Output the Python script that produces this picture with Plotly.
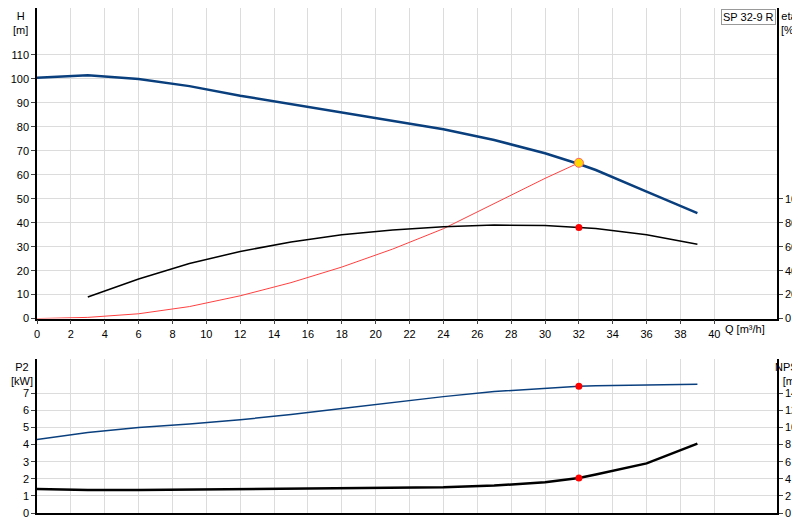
import plotly.graph_objects as go

q_h = [0, 3, 6, 9, 12, 15, 18, 21, 24, 27, 30, 32, 33, 36, 39]
head = [100.5, 101.5, 100, 97, 93, 89.5, 86, 82.5, 79, 74.5, 69, 64.5, 62, 53, 44]
q_eta = [3, 6, 9, 12, 15, 18, 21, 24, 27, 30, 32, 33, 36, 39]
eta = [18, 33, 46, 56, 64, 70, 74, 76.6, 78, 77.6, 76, 75.2, 70, 62]
q_sys = [0, 3, 6, 9, 12, 15, 18, 21, 24, 27, 30, 32]
h_sys = [0, 0.5, 2, 5, 9.5, 15, 21.5, 29, 37.5, 48, 58.5, 65]
p2 = [4.3, 4.7, 5.0, 5.2, 5.45, 5.75, 6.1, 6.45, 6.8, 7.1, 7.3, 7.4, 7.43, 7.48, 7.52]
q_npsh = [0, 3, 6, 9, 12, 15, 18, 21, 24, 27, 30, 32, 33, 36, 39]
npsh = [2.8, 2.7, 2.7, 2.75, 2.8, 2.85, 2.9, 2.95, 3.0, 3.2, 3.6, 4.1, 4.5, 5.8, 8.1]
duty_q = 32

blue = "#0a3f7e"
fig = go.Figure()
fig.add_trace(go.Scatter(x=q_h, y=head, mode="lines", line=dict(color=blue, width=2.5), xaxis="x", yaxis="y"))
fig.add_trace(go.Scatter(x=q_sys, y=h_sys, mode="lines", line=dict(color="#ff4040", width=1), xaxis="x", yaxis="y"))
fig.add_trace(go.Scatter(x=q_eta, y=eta, mode="lines", line=dict(color="black", width=1.5), xaxis="x", yaxis="y2"))
fig.add_trace(go.Scatter(x=[duty_q], y=[eta[q_eta.index(duty_q)]], mode="markers",
                         marker=dict(color="red", size=7), xaxis="x", yaxis="y2"))
fig.add_trace(go.Scatter(x=[duty_q], y=[h_sys[-1]], mode="markers",
                         marker=dict(color="#ffd700", size=9, line=dict(color="#ff6060", width=1)), xaxis="x", yaxis="y"))
fig.add_trace(go.Scatter(x=q_h, y=p2, mode="lines", line=dict(color=blue, width=1.5), xaxis="x2", yaxis="y3"))
fig.add_trace(go.Scatter(x=q_npsh, y=npsh, mode="lines", line=dict(color="black", width=2.5), xaxis="x2", yaxis="y4"))
fig.add_trace(go.Scatter(x=[duty_q], y=[p2[q_h.index(duty_q)]], mode="markers",
                         marker=dict(color="red", size=7), xaxis="x2", yaxis="y3"))
fig.add_trace(go.Scatter(x=[duty_q], y=[npsh[q_npsh.index(duty_q)]], mode="markers",
                         marker=dict(color="red", size=7), xaxis="x2", yaxis="y4"))

grid = "#dcdcdc"
ax = dict(showgrid=True, gridcolor=grid, showline=True, linecolor="black", linewidth=1.5,
          ticks="outside", ticklen=4, zeroline=False, automargin=False,
          tickfont=dict(size=11, color="black"))
fig.update_layout(
    width=800, height=520, showlegend=False, plot_bgcolor="white", paper_bgcolor="white",
    font=dict(family="Arial, Liberation Sans", size=11, color="black"),
    margin=dict(l=29, r=31, t=0, b=15, autoexpand=False),
    xaxis=dict(ax, range=[0, 43.7], tickvals=list(range(0, 41, 2)), domain=[0, 1], anchor="y"),
    yaxis=dict(ax, range=[0, 129.6], tickvals=list(range(0, 111, 10)), domain=[0.385, 1]),
    yaxis2=dict(ax, range=[0, 259.2], tickvals=list(range(0, 101, 20)), overlaying="y", side="right",
                showgrid=False, anchor="x"),
    xaxis2=dict(ax, range=[0, 43.7], tickvals=list(range(0, 41, 2)), showticklabels=False, ticks="",
                domain=[0, 1], anchor="y3"),
    yaxis3=dict(ax, range=[0, 9], tickvals=list(range(0, 8)), domain=[0, 0.305], anchor="x2"),
    yaxis4=dict(ax, range=[0, 18], tickvals=list(range(0, 15, 2)), overlaying="y3", side="right",
                showgrid=False, anchor="x2"),
)
ann = [
    (-0.01, 1.0, "H<br>[m]", "right"),
    (1.003, 1.0, "eta<br>[%]", "left"),
    (-0.003, 0.305, "P2<br>[kW]", "right"),
    (0.995, 0.305, "NPSH<br>[m]", "left"),
]
for x, y, t, a in ann:
    fig.add_annotation(x=x, y=y, xref="paper", yref="paper", text=t, showarrow=False,
                       xanchor=a, yanchor="top", align="center", font=dict(size=11))
fig.add_annotation(x=40.5, y=0, xref="x", yref="y", text="Q [m³/h]", showarrow=False,
                   xanchor="left", yanchor="top", yshift=-2, font=dict(size=11))
fig.add_annotation(x=0.998, y=0.998, xref="paper", yref="paper", text="SP 32-9 R", showarrow=False,
                   xanchor="right", yanchor="top", bordercolor="#999999", borderwidth=1,
                   bgcolor="white", font=dict(size=11))
fig.write_html("out.html")
